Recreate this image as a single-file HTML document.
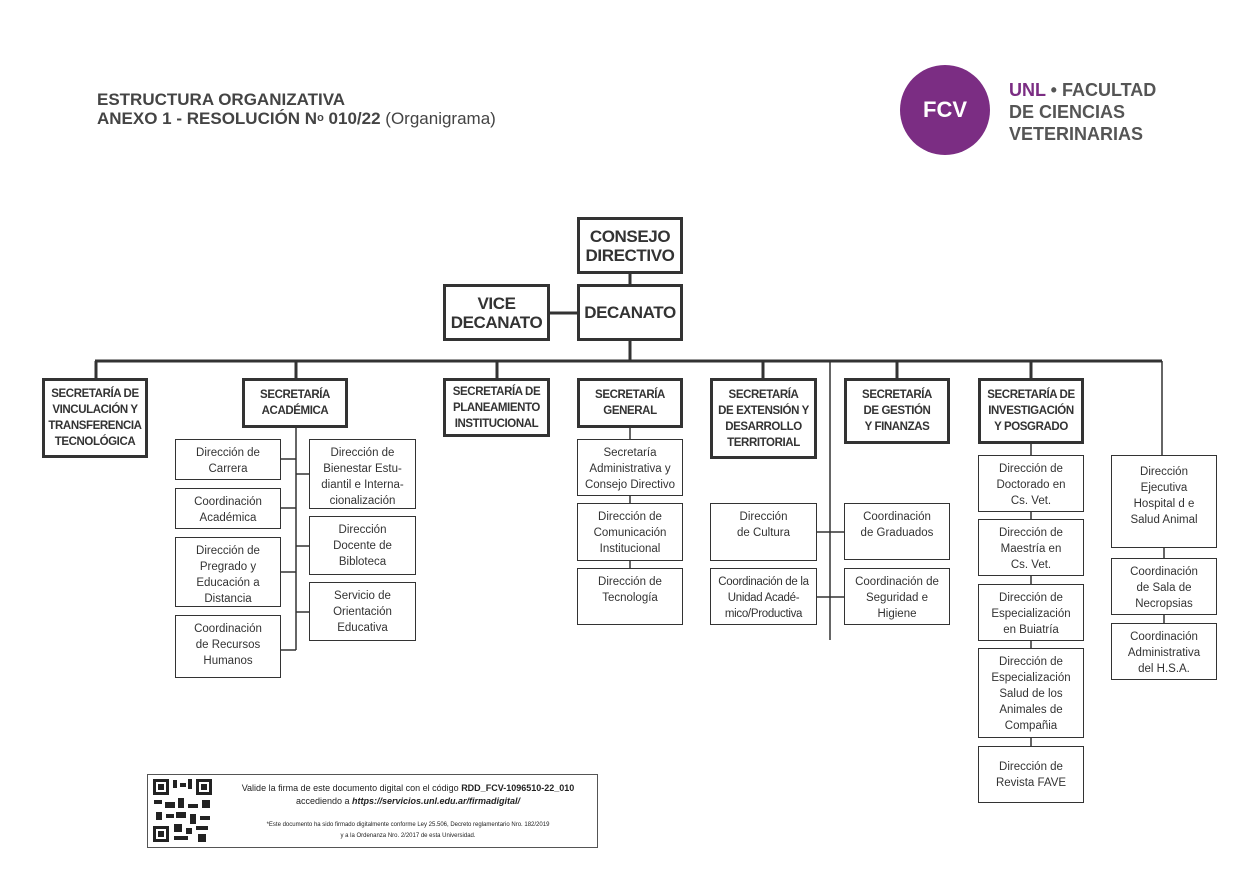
<!DOCTYPE html>
<html><head><meta charset="utf-8"><style>
body{margin:0;width:1259px;height:891px;background:#fff;position:relative;overflow:hidden;font-family:"Liberation Sans",sans-serif;color:#333}
.b{position:absolute;box-sizing:border-box;border:1.5px solid #333;text-align:center;font-size:11.5px;line-height:16px;padding-top:5px;background:#fff}
.h{position:absolute;box-sizing:border-box;border:3px solid #333;text-align:center;font-size:11.5px;font-weight:bold;line-height:16px;display:flex;align-items:center;justify-content:center;background:#fff;letter-spacing:-0.4px}
.t{font-size:17px;font-weight:bold;line-height:19px}
</style></head><body>
<div style="position:absolute;left:97px;top:90px;color:#444" class="t">ESTRUCTURA ORGANIZATIVA<br>ANEXO 1 - RESOLUCIÓN N<sup style="font-size:11px;vertical-align:3px">o</sup> 010/22 <span style="font-weight:normal">(Organigrama)</span></div>
<div style="position:absolute;left:900px;top:65px;width:90px;height:90px;border-radius:50%;background:#7b2d83;color:#fff;font-weight:bold;font-size:22px;line-height:90px;text-align:center">FCV</div>
<div style="position:absolute;left:1009px;top:79px;font-size:18px;font-weight:bold;line-height:22px;color:#555"><span style="color:#7b2d83">UNL</span> • FACULTAD<br>DE CIENCIAS<br>VETERINARIAS</div>

<svg style="position:absolute;left:0;top:0" width="1259" height="891">
<g stroke="#333" stroke-width="3" fill="none">
<line x1="630" y1="274" x2="630" y2="361"/>
<line x1="550" y1="313" x2="577" y2="313"/>
<line x1="95" y1="361" x2="1162" y2="361"/>
<line x1="96" y1="361" x2="96" y2="378"/>
<line x1="296" y1="361" x2="296" y2="378"/>
<line x1="497" y1="361" x2="497" y2="378"/>
<line x1="763" y1="361" x2="763" y2="378"/>
<line x1="897" y1="361" x2="897" y2="378"/>
<line x1="1031" y1="361" x2="1031" y2="378"/>
</g>
<g stroke="#333" stroke-width="1.5" fill="none">
<line x1="296" y1="428" x2="296" y2="650"/>
<line x1="281" y1="459" x2="296" y2="459"/><line x1="281" y1="508" x2="296" y2="508"/>
<line x1="281" y1="572" x2="296" y2="572"/><line x1="281" y1="650" x2="296" y2="650"/>
<line x1="296" y1="474" x2="309" y2="474"/><line x1="296" y1="546" x2="309" y2="546"/><line x1="296" y1="612" x2="309" y2="612"/>
<line x1="630" y1="428" x2="630" y2="568"/>
<line x1="830" y1="361" x2="830" y2="640"/>
<line x1="817" y1="532" x2="844" y2="532"/><line x1="817" y1="597" x2="844" y2="597"/>
<line x1="1031" y1="444" x2="1031" y2="746"/>
<line x1="1162" y1="361" x2="1162" y2="455"/>
<line x1="1164" y1="548" x2="1164" y2="623"/>
</g>
<g fill="#222">
<rect x="153" y="779" width="16" height="16"/><rect x="196" y="779" width="16" height="16"/><rect x="153" y="826" width="16" height="16"/>
<rect x="156" y="782" width="10" height="10" fill="#fff"/><rect x="199" y="782" width="10" height="10" fill="#fff"/><rect x="156" y="829" width="10" height="10" fill="#fff"/>
<rect x="158" y="784" width="6" height="6"/><rect x="201" y="784" width="6" height="6"/><rect x="158" y="831" width="6" height="6"/>
<rect x="173" y="780" width="4" height="8"/><rect x="180" y="783" width="6" height="4"/><rect x="188" y="779" width="4" height="10"/>
<rect x="154" y="800" width="8" height="4"/><rect x="165" y="802" width="10" height="6"/><rect x="178" y="798" width="6" height="10"/><rect x="188" y="804" width="10" height="4"/><rect x="202" y="800" width="8" height="8"/>
<rect x="156" y="812" width="6" height="8"/><rect x="166" y="814" width="8" height="4"/><rect x="176" y="812" width="10" height="6"/><rect x="190" y="814" width="6" height="10"/><rect x="200" y="816" width="10" height="4"/>
<rect x="174" y="824" width="8" height="8"/><rect x="186" y="828" width="6" height="6"/><rect x="196" y="826" width="12" height="4"/><rect x="174" y="836" width="14" height="4"/><rect x="198" y="834" width="8" height="8"/>
</g>
</svg>

<div class="h" style="left:577px;top:217px;width:106px;height:57px;font-size:17px;line-height:19px">CONSEJO<br>DIRECTIVO</div>
<div class="h" style="left:577px;top:284px;width:106px;height:57px;font-size:17px">DECANATO</div>
<div class="h" style="left:443px;top:284px;width:107px;height:57px;font-size:17px;line-height:19px">VICE<br>DECANATO</div>

<div class="h" style="left:42px;top:378px;width:106px;height:80px">SECRETARÍA DE<br>VINCULACIÓN Y<br>TRANSFERENCIA<br>TECNOLÓGICA</div>
<div class="h" style="left:242px;top:378px;width:106px;height:50px">SECRETARÍA<br>ACADÉMICA</div>
<div class="h" style="left:443px;top:378px;width:107px;height:59px">SECRETARÍA DE<br>PLANEAMIENTO<br>INSTITUCIONAL</div>
<div class="h" style="left:577px;top:378px;width:106px;height:50px">SECRETARÍA<br>GENERAL</div>
<div class="h" style="left:710px;top:378px;width:107px;height:81px">SECRETARÍA<br>DE EXTENSIÓN Y<br>DESARROLLO<br>TERRITORIAL</div>
<div class="h" style="left:844px;top:378px;width:106px;height:66px">SECRETARÍA<br>DE GESTIÓN<br>Y FINANZAS</div>
<div class="h" style="left:978px;top:378px;width:106px;height:66px">SECRETARÍA DE<br>INVESTIGACIÓN<br>Y POSGRADO</div>

<div class="b" style="left:175px;top:439px;width:106px;height:41px">Dirección de<br>Carrera</div>
<div class="b" style="left:175px;top:488px;width:106px;height:41px">Coordinación<br>Académica</div>
<div class="b" style="left:175px;top:537px;width:106px;height:70px">Dirección de<br>Pregrado y<br>Educación a<br>Distancia</div>
<div class="b" style="left:175px;top:615px;width:106px;height:63px">Coordinación<br>de Recursos<br>Humanos</div>
<div class="b" style="left:309px;top:439px;width:107px;height:70px">Dirección de<br>Bienestar Estu-<br>diantil e Interna-<br>cionalización</div>
<div class="b" style="left:309px;top:516px;width:107px;height:59px">Dirección<br>Docente de<br>Bibloteca</div>
<div class="b" style="left:309px;top:582px;width:107px;height:59px">Servicio de<br>Orientación<br>Educativa</div>

<div class="b" style="left:577px;top:439px;width:106px;height:57px">Secretaría<br>Administrativa y<br>Consejo Directivo</div>
<div class="b" style="left:577px;top:503px;width:106px;height:58px">Dirección de<br>Comunicación<br>Institucional</div>
<div class="b" style="left:577px;top:568px;width:106px;height:57px">Dirección de<br>Tecnología</div>

<div class="b" style="left:710px;top:503px;width:107px;height:58px">Dirección<br>de Cultura</div>
<div class="b" style="left:710px;top:568px;width:107px;height:57px;letter-spacing:-0.3px">Coordinación de la<br>Unidad Acadé-<br>mico/Productiva</div>
<div class="b" style="left:844px;top:503px;width:106px;height:57px">Coordinación<br>de Graduados</div>
<div class="b" style="left:844px;top:568px;width:106px;height:57px">Coordinación de<br>Seguridad e<br>Higiene</div>

<div class="b" style="left:978px;top:455px;width:106px;height:57px">Dirección de<br>Doctorado en<br>Cs. Vet.</div>
<div class="b" style="left:978px;top:519px;width:106px;height:57px">Dirección de<br>Maestría en<br>Cs. Vet.</div>
<div class="b" style="left:978px;top:584px;width:106px;height:57px">Dirección de<br>Especialización<br>en Buiatría</div>
<div class="b" style="left:978px;top:648px;width:106px;height:90px">Dirección de<br>Especialización<br>Salud de los<br>Animales de<br>Compañia</div>
<div class="b" style="left:978px;top:746px;width:106px;height:57px;padding-top:12px">Dirección de<br>Revista FAVE</div>

<div class="b" style="left:1111px;top:455px;width:106px;height:93px;padding-top:8px">Dirección<br>Ejecutiva<br>Hospital d e<br>Salud Animal</div>
<div class="b" style="left:1111px;top:558px;width:106px;height:57px">Coordinación<br>de Sala de<br>Necropsias</div>
<div class="b" style="left:1111px;top:623px;width:106px;height:57px">Coordinación<br>Administrativa<br>del H.S.A.</div>

<div style="position:absolute;left:147px;top:774px;width:451px;height:74px;box-sizing:border-box;border:1px solid #555;color:#222">
 <div style="position:absolute;left:70px;top:7px;width:380px;text-align:center;font-size:9px;line-height:13px">Valide la firma de este documento digital con el código <b>RDD_FCV-1096510-22_010</b><br>accediendo a <b><i>https://servicios.unl.edu.ar/firmadigital/</i></b></div>
 <div style="position:absolute;left:70px;top:45px;width:380px;text-align:center;font-size:6px;line-height:11px">*Este documento ha sido firmado digitalmente conforme Ley 25.506, Decreto reglamentario Nro. 182/2019<br>y a la Ordenanza Nro. 2/2017 de esta Universidad.</div>
</div>
</body></html>
